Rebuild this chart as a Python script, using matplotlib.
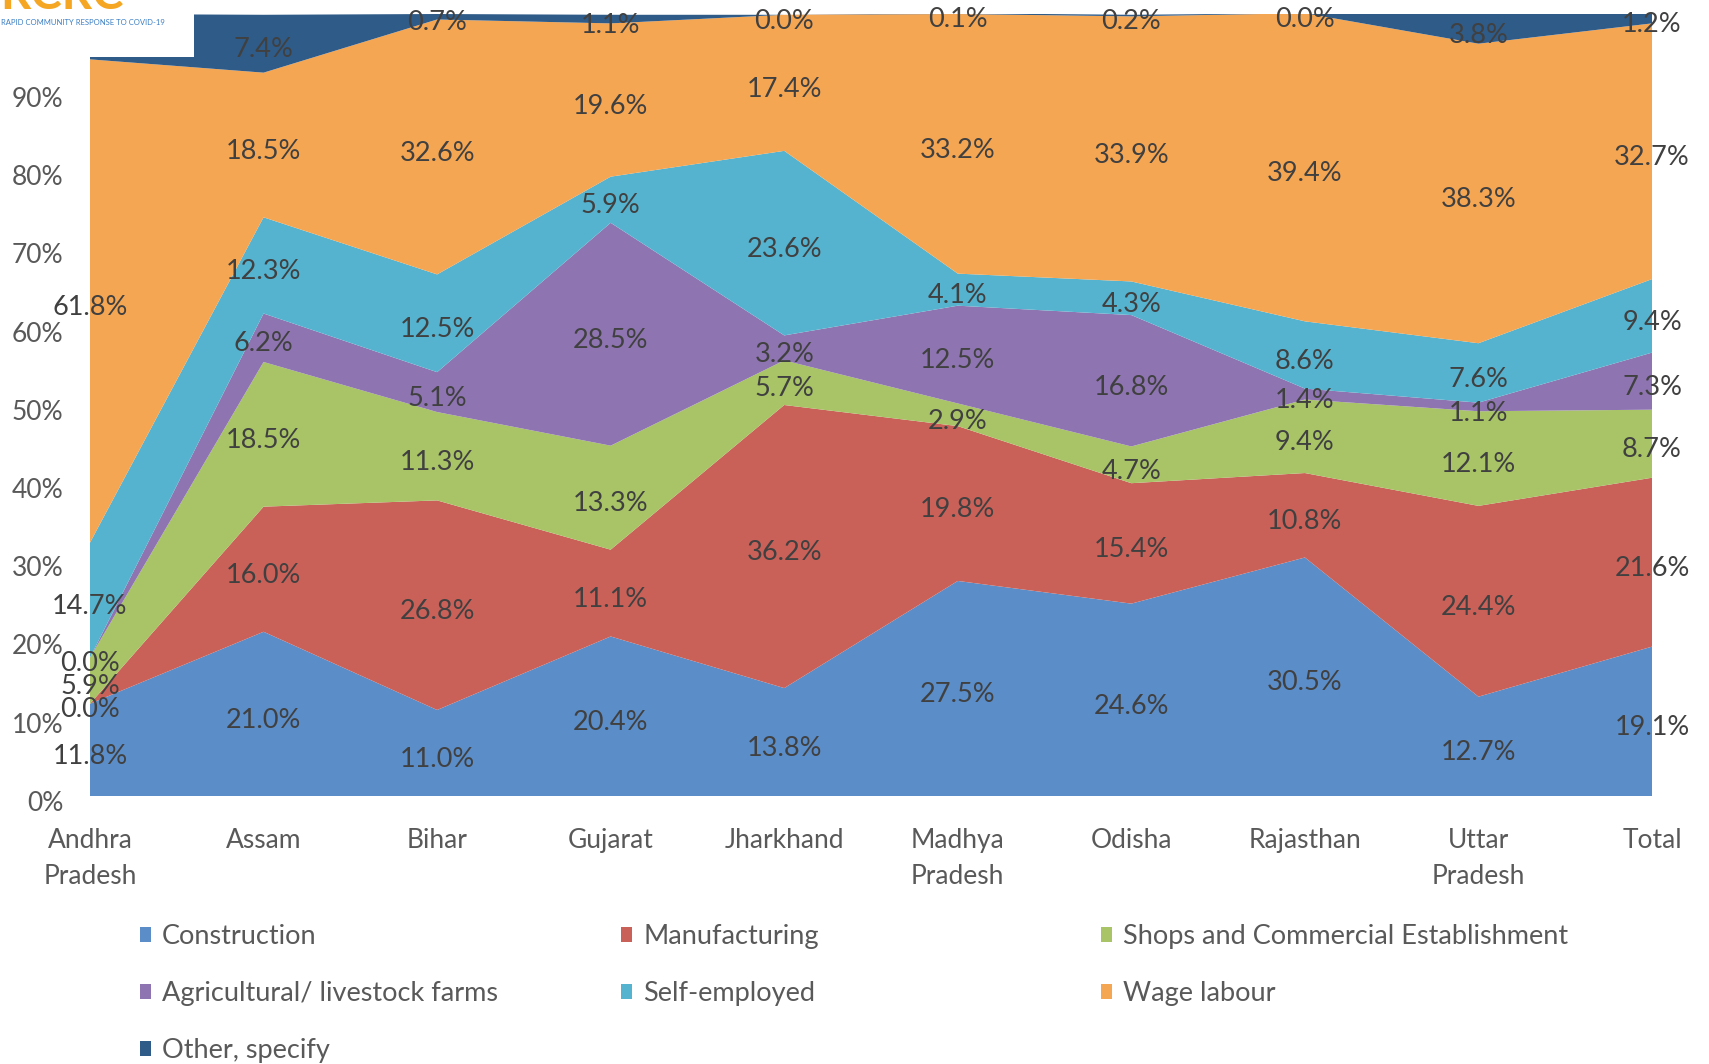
import numpy as np
import matplotlib
matplotlib.use("Agg")
import matplotlib.pyplot as plt
from matplotlib.patches import Patch, Rectangle
from matplotlib.transforms import offset_copy, ScaledTranslation

plt.rcParams['font.family'] = ['Lato', 'DejaVu Sans']

# Data (percent of respondents):
states = ["Andhra\nPradesh", "Assam", "Bihar", "Gujarat", "Jharkhand",
          "Madhya\nPradesh", "Odisha", "Rajasthan", "Uttar\nPradesh", "Total"]
construction = [11.8, 21.0, 11.0, 20.4, 13.8, 27.5, 24.6, 30.5, 12.7, 19.1]
manufacturing = [0.0, 16.0, 26.8, 11.1, 36.2, 19.8, 15.4, 10.8, 24.4, 21.6]
shops = [5.9, 18.5, 11.3, 13.3, 5.7, 2.9, 4.7, 9.4, 12.1, 8.7]
agri = [0.0, 6.2, 5.1, 28.5, 3.2, 12.5, 16.8, 1.4, 1.1, 7.3]
self_emp = [14.7, 12.3, 12.5, 5.9, 23.6, 4.1, 4.3, 8.6, 7.6, 9.4]
wage = [61.8, 18.5, 32.6, 19.6, 17.4, 33.2, 33.9, 39.4, 38.3, 32.7]
other = [5.8, 7.4, 0.7, 1.1, 0.0, 0.1, 0.2, 0.0, 3.8, 1.2]

series_names = ["Construction", "Manufacturing", "Shops and Commercial Establishment",
                "Agricultural/ livestock farms", "Self-employed", "Wage labour", "Other, specify"]
series = [construction, manufacturing, shops, agri, self_emp, wage, other]
colors = ["#5B8DC8", "#CA6159", "#A8C466", "#8E75B1", "#55B3CF", "#F5A653", "#2F5B88"]

W, H = 1709, 1064
fig = plt.figure(figsize=(W / 100, H / 100), dpi=100)
ax = fig.add_axes([90 / W, 1 - 796 / H, (1652 - 90) / W, (796 - 14) / H])

x = np.arange(len(states))
data = np.array(series)
ax.stackplot(x, data, colors=colors, linewidth=0)

# Data labels in the middle of each band (Excel draws them a touch low):
lbl_trans = offset_copy(ax.transData, fig=fig, y=-4.5, units="points")
bottoms = np.vstack([np.zeros(len(states)), np.cumsum(data, axis=0)[:-1]])
mids = bottoms + data / 2
for k in range(len(series)):
    for i in range(len(states)):
        if k == len(series) - 1 and i == 0:
            continue  # hidden under the logo
        ax.text(x[i], mids[k, i], "%.1f%%" % data[k, i], ha="center", va="center",
                fontsize=19.5, color="#404040", transform=lbl_trans)

ax.set_xlim(0, len(states) - 1)
ax.set_ylim(0, 100)
ax.set_yticks(np.arange(0, 100, 10))
ax.set_yticklabels(["%d%%" % v for v in range(0, 100, 10)])
ax.set_xticks(x)
ax.set_xticklabels(states, linespacing=1.55)
ax.tick_params(axis="y", length=0, pad=19, labelsize=19, labelcolor="#595959")
ax.tick_params(axis="x", length=0, pad=23, labelsize=19, labelcolor="#595959")
for lab in ax.get_yticklabels():
    lab.set_transform(lab.get_transform() + ScaledTranslation(0, -3.5 / 72, fig.dpi_scale_trans))
for sp in ax.spines.values():
    sp.set_visible(False)

# Logo box covering the top-left corner:
fig.patches.append(Rectangle((0, 1 - 57 / H), 194 / W, 57 / H, transform=fig.transFigure,
                             facecolor="white", edgecolor="none", zorder=5))
fig.text(0, 1 - 9 / H, "RCRC", fontsize=34, fontweight="bold", color="#F5A623",
         ha="left", va="baseline", zorder=6)
fig.text(1 / W, 1 - 25 / H, "RAPID COMMUNITY RESPONSE TO COVID-19", fontsize=5.5,
         color="#3B7FC4", ha="left", va="baseline", zorder=6)

# Legend in three columns, placed one column at a time:
handles = [Patch(facecolor=c, edgecolor="none") for c in colors]
columns = [[0, 3, 6], [1, 4], [2, 5]]
col_x = [140, 621, 1101]
for cx, idx in zip(col_x, columns):
    fig.legend([handles[i] for i in idx], [series_names[i] for i in idx],
               loc="upper left", bbox_to_anchor=(cx / W, 1 - 924 / H),
               frameon=False, fontsize=19.5, labelcolor="#595959",
               handlelength=0.42, handleheight=0.48, handletextpad=0.4,
               labelspacing=1.18, borderpad=0, borderaxespad=0)

fig.savefig("out.png", dpi=100)
